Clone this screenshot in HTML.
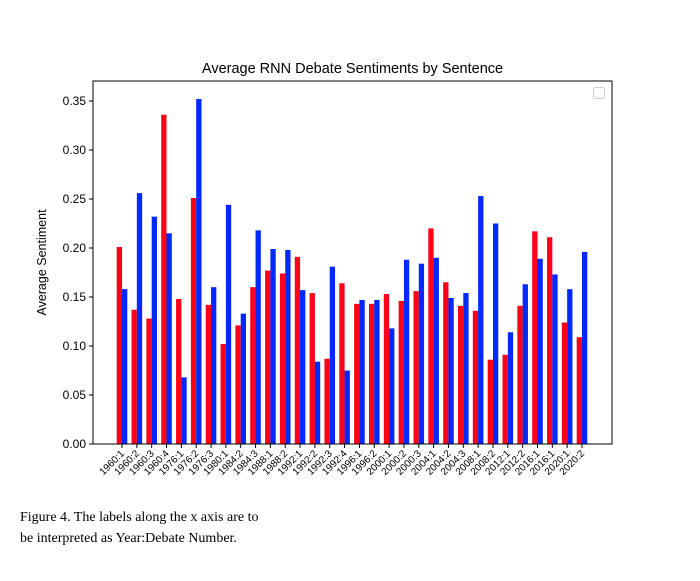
<!DOCTYPE html>
<html><head><meta charset="utf-8"><style>
body{margin:0;background:#fff;width:700px;height:581px;overflow:hidden;position:relative}
.cap{position:absolute;left:20px;top:507px;font-family:"Liberation Serif",serif;font-size:14px;line-height:21px;color:#000}
</style></head><body>
<svg id="chart" width="700" height="500" style="position:absolute;left:0;top:0" font-family="Liberation Sans, sans-serif"></svg>
<div class="cap">Figure 4. The labels along the x axis are to<br>be interpreted as Year:Debate Number.</div>
<script>
const categories=["1960:1","1960:2","1960:3","1960:4","1976:1","1976:2","1976:3","1980:1","1984:2","1984:3","1988:1","1988:2","1992:1","1992:2","1992:3","1992:4","1996:1","1996:2","2000:1","2000:2","2000:3","2004:1","2004:2","2004:3","2008:1","2008:2","2012:1","2012:2","2016:1","2016:1","2020:1","2020:2"];
const redValues=[0.201,0.137,0.128,0.336,0.148,0.251,0.142,0.102,0.121,0.160,0.177,0.174,0.191,0.154,0.087,0.164,0.143,0.143,0.153,0.146,0.156,0.220,0.165,0.141,0.136,0.086,0.091,0.141,0.217,0.211,0.124,0.109];
const blueValues=[0.158,0.256,0.232,0.215,0.068,0.352,0.160,0.244,0.133,0.218,0.199,0.198,0.157,0.084,0.181,0.075,0.147,0.147,0.118,0.188,0.184,0.190,0.149,0.154,0.253,0.225,0.114,0.163,0.189,0.173,0.158,0.196];
const yTicks=[0,0.05,0.10,0.15,0.20,0.25,0.30,0.35];
const svg=document.getElementById('chart');
const NS='http://www.w3.org/2000/svg';
const L=93,R=612,T=81,B=444;
const y=v=>B-v/0.05*49;
const x=i=>122+i*(582-122)/31;
const bw=5.3;
function mk(tag,attrs){const e=document.createElementNS(NS,tag);for(const k in attrs)e.setAttribute(k,attrs[k]);svg.appendChild(e);return e;}
categories.forEach((c,i)=>{
 let r=mk('rect',{x:x(i)-bw,y:y(redValues[i]),width:bw,height:B-y(redValues[i]),fill:'#ff0018'});
 
 
 let b=mk('rect',{x:x(i),y:y(blueValues[i]),width:bw,height:B-y(blueValues[i]),fill:'#0028ff'});
 
 
 mk('line',{x1:x(i),x2:x(i),y1:B,y2:B+4,stroke:'#000','stroke-width':1});
 let t=mk('text',{x:0,y:0,'font-size':10,'text-anchor':'end',transform:`translate(${x(i)+3},${B+10}) rotate(-45)`,fill:'#000'});
 t.textContent=c;
 
 
});
yTicks.forEach(v=>{
 mk('line',{x1:L-4,x2:L,y1:y(v),y2:y(v),stroke:'#000','stroke-width':1});
 let t=mk('text',{x:L-7,y:y(v)+4,'font-size':12,'text-anchor':'end',fill:'#000'});
 t.textContent=v.toFixed(2);
 
 
});
let f=mk('rect',{x:L,y:T,width:R-L,height:B-T,fill:'none',stroke:'#000','stroke-width':1});


let lg=mk('rect',{x:593.5,y:87.5,width:11,height:11,rx:2,fill:'#fff',stroke:'#ccc','stroke-width':1});


let tt=mk('text',{x:(L+R)/2,y:73,'font-size':14.5,'text-anchor':'middle',fill:'#000'});
tt.textContent='Average RNN Debate Sentiments by Sentence';


let yl=mk('text',{x:0,y:0,'font-size':12.5,'text-anchor':'middle',transform:`translate(46,${(T+B)/2}) rotate(-90)`,fill:'#000'});
yl.textContent='Average Sentiment';


</script>
</body></html>
